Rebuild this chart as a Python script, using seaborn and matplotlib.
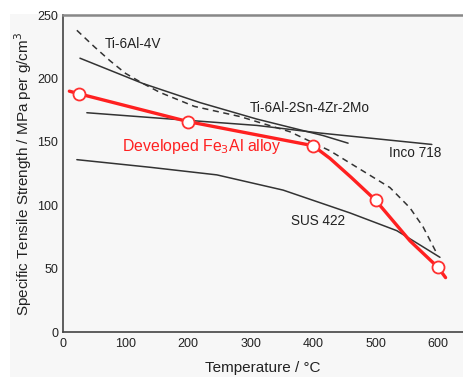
import seaborn as sns
import matplotlib.pyplot as plt
import matplotlib.patches as mpatches
import pandas as pd

# Developed Fe3Al alloy (line trace and measured points)
fe_line_t = [10, 25, 200, 400, 427, 461, 500, 555, 600, 612]
fe_line_s = [190, 188, 166, 147, 137, 122, 104, 72, 51, 43]
fe_pts_t = [25, 200, 400, 500, 600]
fe_pts_s = [188, 166, 147, 104, 51]

# dashed curve
dash_t = [22, 50, 75, 100, 128, 155, 210, 283, 363, 427, 480, 523, 555, 576, 598]
dash_s = [238, 225, 214, 204, 196, 189, 178, 170, 158, 143, 127, 114, 98, 83, 62]

# Ti-6Al-4V
ti64_t = [27, 128, 219, 310, 416, 456]
ti64_s = [216, 196, 181, 168, 155, 149]

# Ti-6Al-2Sn-4Zr-2Mo / Inco 718
inco_t = [38, 200, 310, 411, 590]
inco_s = [173, 167, 163, 157, 148]

# SUS 422
sus_t = [22, 139, 246, 352, 459, 534, 603]
sus_s = [136, 130, 124, 112, 94, 80, 59]

bg = '#f7f7f7'
sns.set_style('white')
plt.rcParams['font.family'] = ['Liberation Sans', 'DejaVu Sans']

fig = plt.figure(figsize=(4.64, 3.77), dpi=100)
fig.patches.append(mpatches.Rectangle((10 / 464, 0), 1, 0.963, transform=fig.transFigure,
                                      facecolor=bg, edgecolor='none', zorder=-10))
ax = fig.add_axes([0.136, 0.119, 0.862, 0.841])
ax.set_facecolor(bg)

sns.lineplot(x=dash_t, y=dash_s, ax=ax, color='#333333', lw=1.1, linestyle=(0, (4, 3)), sort=False)
sns.lineplot(x=ti64_t, y=ti64_s, ax=ax, color='#333333', lw=1.1, sort=False)
sns.lineplot(x=inco_t, y=inco_s, ax=ax, color='#333333', lw=1.1, sort=False)
sns.lineplot(x=sus_t, y=sus_s, ax=ax, color='#333333', lw=1.1, sort=False)
sns.lineplot(x=fe_line_t, y=fe_line_s, ax=ax, color='#ff2020', lw=2.4, sort=False)
sns.scatterplot(x=fe_pts_t, y=fe_pts_s, ax=ax, s=75, color='white', edgecolor='#ff3030',
                linewidth=1.3, zorder=5)

ax.text(66, 227, 'Ti-6Al-4V', fontsize=9.8, color='#222222', va='center')
ax.text(299, 177, 'Ti-6Al-2Sn-4Zr-2Mo', fontsize=9.8, color='#222222', va='center')
ax.text(522, 141, 'Inco 718', fontsize=9.8, color='#222222', va='center')
ax.text(365, 88, 'SUS 422', fontsize=9.8, color='#222222', va='center')
ax.text(94, 146, 'Developed Fe$_3$Al alloy', fontsize=11.4, color='#ff2020', va='center')

ax.set_xlim(0, 640)
ax.set_ylim(0, 250)
ax.set_xticks([0, 100, 200, 300, 400, 500, 600])
ax.set_yticks([0, 50, 100, 150, 200, 250])
ax.tick_params(direction='in', length=5, width=1, colors='#444444', labelcolor='#222222',
               labelsize=9)
ax.tick_params(axis='x', pad=4)
ax.set_xlabel('Temperature / °C', fontsize=11, color='#222222', labelpad=8)
ax.set_ylabel('Specific Tensile Strength / MPa per g/cm$^3$', fontsize=11, color='#222222',
              labelpad=2)

for side in ['left', 'bottom']:
    ax.spines[side].set_color('#444444')
    ax.spines[side].set_linewidth(1.2)
ax.spines['top'].set_color('#888888')
ax.spines['top'].set_linewidth(1.8)
ax.spines['right'].set_visible(False)

fig.savefig('out.png', dpi=100, facecolor='white')
